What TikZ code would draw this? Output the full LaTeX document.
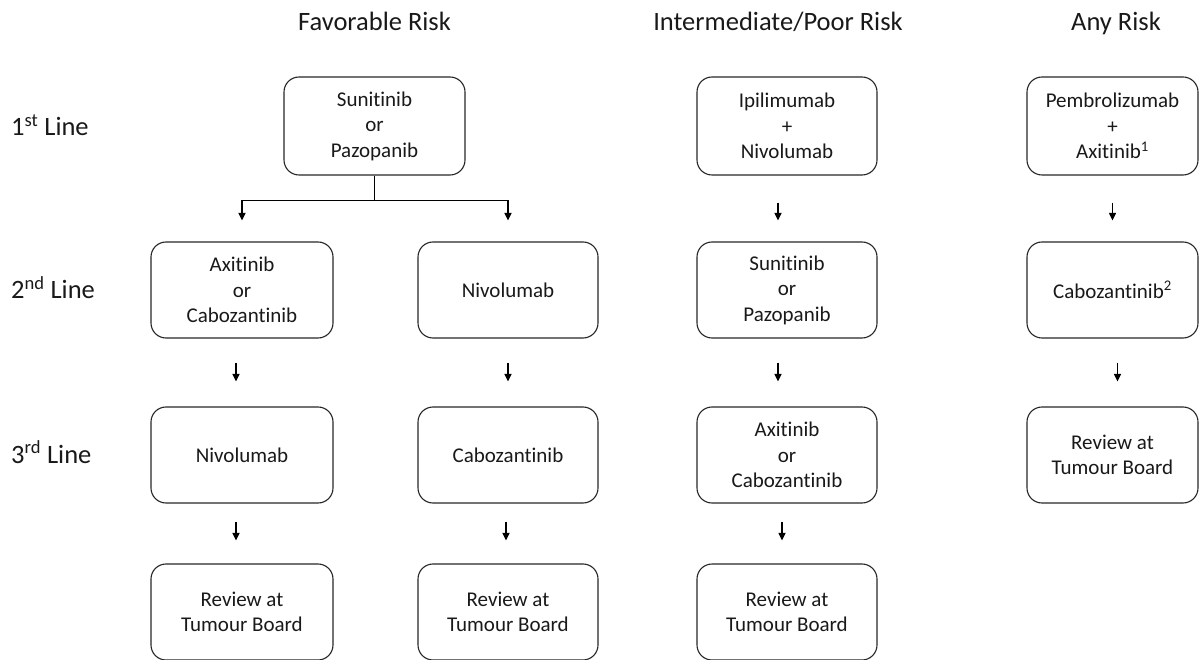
\documentclass[tikz,border=0pt]{standalone}
\usepackage{fontspec}
\setmainfont{Carlito}[Ligatures=NoCommon]
\usetikzlibrary{arrows.meta}
\begin{document}
\begin{tikzpicture}[x=1pt,y=-1pt,
  box/.style={draw=black!85, line width=1.1pt, rounded corners=15pt, align=center,
    minimum height=96pt, inner sep=0pt, font=\fontsize{21}{25.5}\selectfont, text=black!90},
  wa/.style={minimum width=182pt},
  wb/.style={minimum width=180pt},
  wc/.style={minimum width=171pt},
  hdr/.style={font=\fontsize{26.5}{30}\selectfont, anchor=base, inner sep=0pt, text=black!90},
  rowlbl/.style={font=\fontsize{26.5}{30}\selectfont, anchor=base west, inner sep=0pt, text=black!90},
  arr/.style={draw=black, line width=1.1pt, -{Triangle[width=7pt,length=7.5pt]}}
]
\useasboundingbox (0,0) rectangle (1200,660);

% headers
\node[hdr] (h1) at (374.5,31) {Favorable Risk};
\node[hdr] (h2) at (778,31) {Intermediate/Poor Risk};
\node[hdr] (h3) at (1116,31) {Any Risk};

% row labels
\node[rowlbl] (r1) at (11,136) {1\textsuperscript{st} Line};
\node[rowlbl] (r2) at (11,299) {2\textsuperscript{nd} Line};
\node[rowlbl] (r3) at (11,463) {3\textsuperscript{rd} Line};

% favorable
\node[box, minimum width=181pt, minimum height=98pt] (f1) at (374.5,126) {Sunitinib\\or\\Pazopanib};
\node[box, wa] (fa2) at (242,290) {Axitinib\\or\\Cabozantinib};
\node[box, wb] (fb2) at (508,290) {Nivolumab};
\node[box, wa] (fa3) at (242,455) {Nivolumab};
\node[box, wb] (fb3) at (508,455) {Cabozantinib};
\node[box, wa] (fa4) at (242,612) {Review at\\Tumour Board};
\node[box, wb] (fb4) at (508,612) {Review at\\Tumour Board};

% intermediate/poor
\node[box, wb, minimum height=98pt] (i1) at (787,126) {Ipilimumab\\+\\Nivolumab};
\node[box, wb] (i2) at (787,290) {Sunitinib\\or\\Pazopanib};
\node[box, wb] (i3) at (787,455) {Axitinib\\or\\Cabozantinib};
\node[box, wb] (i4) at (787,612) {Review at\\Tumour Board};

% any risk
\node[box, wc, minimum height=98pt] (a1) at (1112.5,126) {Pembrolizumab\\+\\Axitinib\textsuperscript{1}};
\node[box, wc] (a2) at (1112.5,290) {Cabozantinib\textsuperscript{2}};
\node[box, wc] (a3) at (1112.5,455) {Review at\\Tumour Board};

% branch from first favorable box
\draw[arr] (f1.south) -- ++(0,25) -| ([yshift=21pt]fa2.north);
\draw[arr] (f1.south) -- ++(0,25) -| ([yshift=21pt]fb2.north);

% favorable vertical arrows
\draw[arr] ([xshift=-6pt,yshift=-24pt]fa2.south) -- ([xshift=-6pt,yshift=25pt]fa3.north);
\draw[arr] ([yshift=-24pt]fb2.south) -- ([yshift=25pt]fb3.north);
\draw[arr] ([xshift=-6pt,yshift=-18pt]fa3.south) -- ([xshift=-6pt,yshift=23pt]fa4.north);
\draw[arr] ([xshift=-2pt,yshift=-18pt]fb3.south) -- ([xshift=-2pt,yshift=23pt]fb4.north);

% intermediate vertical arrows
\draw[arr] ([xshift=-9pt,yshift=-27pt]i1.south) -- ([xshift=-9pt,yshift=21pt]i2.north);
\draw[arr] ([xshift=-9pt,yshift=-24pt]i2.south) -- ([xshift=-9pt,yshift=25pt]i3.north);
\draw[arr] ([xshift=-5pt,yshift=-18pt]i3.south) -- ([xshift=-5pt,yshift=23pt]i4.north);

% any risk vertical arrows
\draw[arr] ([yshift=-27pt]a1.south) -- ([yshift=21pt]a2.north);
\draw[arr] ([xshift=5pt,yshift=-24pt]a2.south) -- ([xshift=5pt,yshift=25pt]a3.north);
\end{tikzpicture}
\end{document}
